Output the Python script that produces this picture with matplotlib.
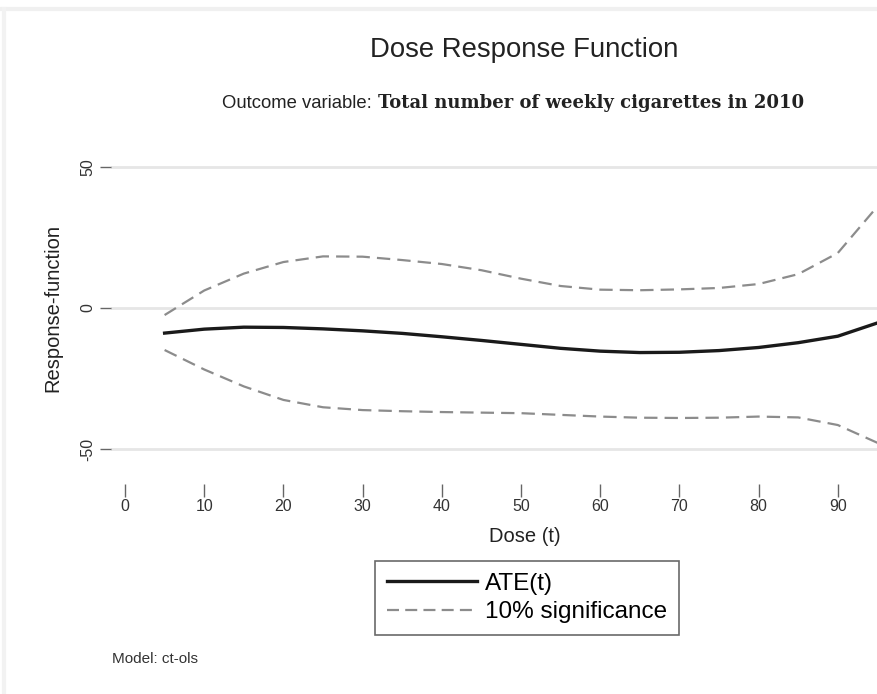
import matplotlib.pyplot as plt
from matplotlib.lines import Line2D

# -- Data --
dose = [5, 10, 15, 20, 25, 30, 35, 40, 45, 50, 55, 60, 65, 70, 75, 80, 85, 90, 95]
ate = [-8.9, -7.5, -6.8, -6.9, -7.4, -8.1, -9.0, -10.2, -11.5, -12.9, -14.3, -15.3, -15.8, -15.7, -15.1, -14.0, -12.3, -10.0, -5.3]
upper = [-2.5, 6.2, 12.2, 16.3, 18.3, 18.2, 17.0, 15.6, 13.4, 10.4, 7.8, 6.5, 6.3, 6.6, 7.1, 8.5, 12.0, 19.5, 36.0]
lower = [-14.9, -21.8, -27.8, -32.6, -35.2, -36.2, -36.6, -36.9, -37.1, -37.3, -37.9, -38.5, -38.9, -39.0, -38.9, -38.5, -38.8, -41.5, -47.8]
x_ticks = [0, 10, 20, 30, 40, 50, 60, 70, 80, 90]
y_ticks = [-50, 0, 50]

W, H = 878, 694
fig = plt.figure(figsize=(W / 100, H / 100), dpi=100)
fig.patch.set_facecolor("white")

# faint screenshot border
fig.add_artist(Line2D([0, 1], [1 - 9 / H, 1 - 9 / H], color="#f0f0f0", lw=3))
fig.add_artist(Line2D([4 / W, 4 / W], [0, 1 - 9 / H], color="#f2f2f2", lw=3))

# -- Axes placed in pixel coords --
left, right, top, bottom = 111, 878, 150, 484
ax = fig.add_axes([left / W, 1 - bottom / H, (right - left) / W, (bottom - top) / H])
ax.set_xlim((left - 125) / 7.92, (right - 125) / 7.92)
ax.set_ylim((308 - bottom) / 2.82, (308 - top) / 2.82)

for s in ax.spines.values():
    s.set_visible(False)

for yv in y_ticks:
    ax.axhline(yv, color="#e6e6e6", lw=2, zorder=0)

ax.plot(dose, upper, color="#8c8c8c", lw=1.6, ls=(0, (6, 3.2)))
ax.plot(dose, lower, color="#8c8c8c", lw=1.6, ls=(0, (6, 3.2)))
ax.plot(dose, ate, color="#1a1a1a", lw=2.4)

ax.set_xticks(x_ticks)
ax.set_yticks(y_ticks)
ax.set_xticklabels([str(v) for v in x_ticks], fontsize=11.5, color="#333333", family="Liberation Sans")
ax.set_yticklabels([str(v) for v in y_ticks], fontsize=11.5, color="#333333", family="Liberation Sans",
                   rotation=90, va="center")
ax.tick_params(axis="x", length=9, width=1, color="#666666", pad=2)
ax.tick_params(axis="y", length=8, width=1, color="#666666", pad=3)

fig.text(525 / W, 1 - 537 / H, "Dose (t)", ha="center", va="center",
         fontsize=14.5, family="Liberation Sans", color="#222222")
fig.text(53 / W, 1 - 308 / H, "Response-function", ha="center", va="center", rotation=90,
         fontsize=14.5, family="Liberation Sans", color="#222222")

# -- Titles --
fig.text(524 / W, 1 - 50 / H, "Dose Response Function", ha="center", va="center",
         fontsize=19.8, family="Liberation Sans", color="#222222")
fig.text(372 / W, 1 - 103 / H, "Outcome variable:", ha="right", va="center",
         fontsize=13.3, family="Liberation Sans", color="#222222")
fig.text(378 / W, 1 - 103 / H, "Total number of weekly cigarettes in 2010", ha="left", va="center",
         fontsize=13, family="DejaVu Serif", fontweight="bold", color="#222222")

# -- Legend --
handles = [Line2D([], [], color="#1a1a1a", lw=2.4),
           Line2D([], [], color="#8c8c8c", lw=1.6, ls=(0, (5.4, 2.8)))]
leg = fig.legend(handles, ["ATE(t)", "10% significance"], loc="center",
                 bbox_to_anchor=(527 / W, 1 - 598 / H),
                 prop={"family": "Liberation Sans", "size": 17.5},
                 frameon=True, fancybox=False, handlelength=3.7, handletextpad=0.35,
                 borderpad=0.5, labelspacing=0.25, borderaxespad=0)
leg.get_frame().set_edgecolor("#444444")
leg.get_frame().set_linewidth(1.2)

fig.text(112 / W, 1 - 659 / H, "Model: ct-ols", ha="left", va="center",
         fontsize=11, family="Liberation Sans", color="#333333")

fig.savefig("out.png", dpi=100)
